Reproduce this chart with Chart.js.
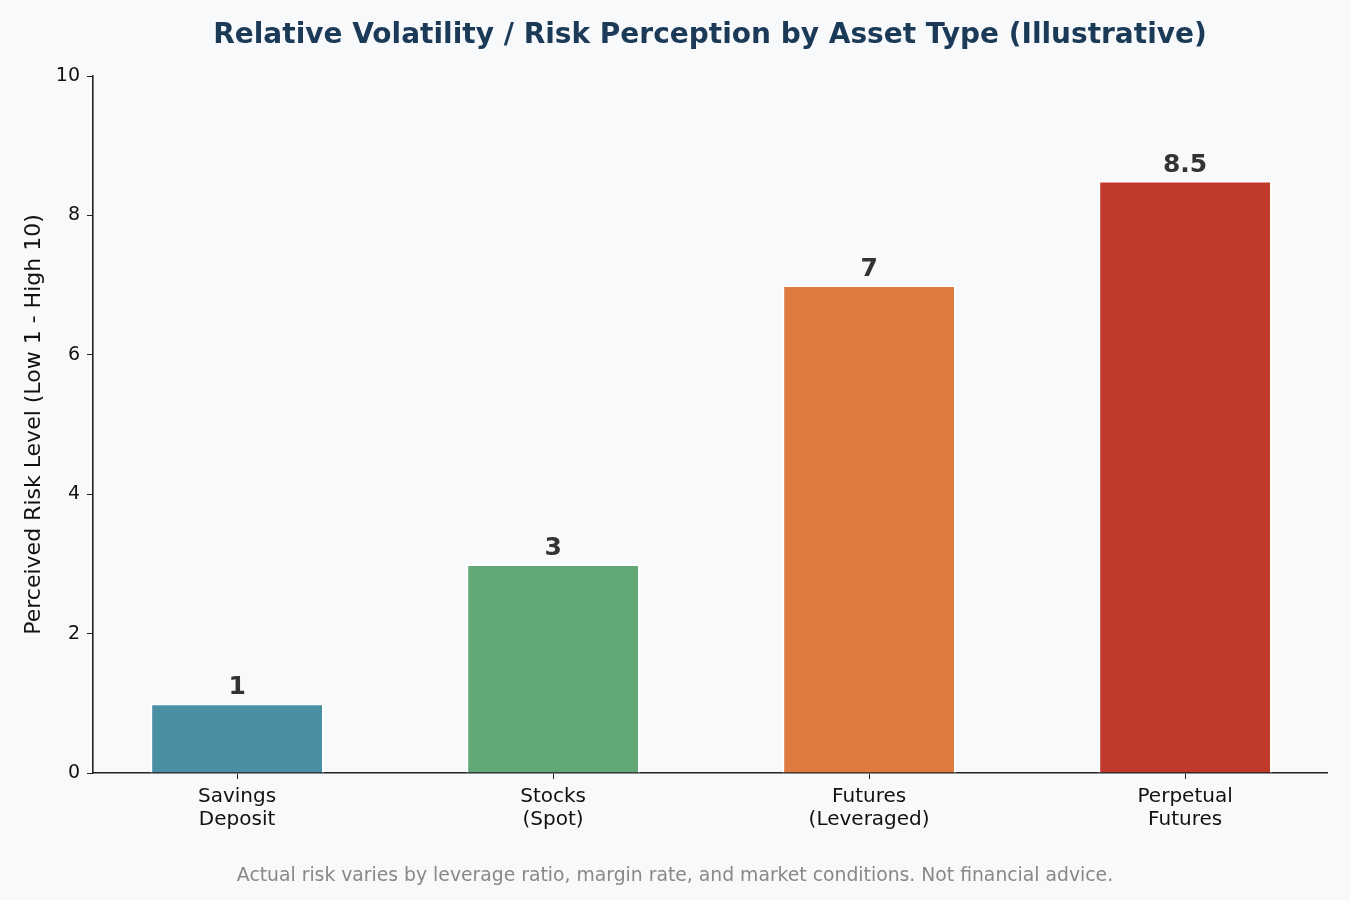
<!DOCTYPE html>
<html>
<head>
<meta charset="utf-8">
<script src="https://cdn.jsdelivr.net/npm/chart.js@4/dist/chart.umd.min.js"></script>
<style>
  html, body { margin: 0; padding: 0; background: #f8f9fb; }
  #wrap { width: 1350px; height: 900px; position: relative; }
</style>
</head>
<body>
<div id="wrap"><canvas id="riskChart"></canvas></div>
<script>
// data
const assetTypes = [['Savings', 'Deposit'], ['Stocks', '(Spot)'], ['Futures', '(Leveraged)'], ['Perpetual', 'Futures']];
const riskLevels = [1, 3, 7, 8.5];
const barColors = ['#4a90a4', '#62a877', '#e07b40', '#c0392b'];
const yTicks = [0, 2, 4, 6, 8, 10];

const titleText = 'Relative Volatility / Risk Perception by Asset Type (Illustrative)';
const noteText = 'Actual risk varies by leverage ratio, margin rate, and market conditions. Not financial advice.';
const FONT = '"DejaVu Sans", sans-serif';

// bars sit at positions 0..n-1 on a linear x axis (matplotlib-like margins)
const barPoints = riskLevels.map((v, i) => ({ x: i, y: v }));

// title, footnote and value labels
const extrasPlugin = {
    id: 'extras',
    afterDraw(chart) {
        const ctx = chart.ctx;
        const area = chart.chartArea;
        ctx.save();

        // title over the plot area
        ctx.fillStyle = '#1b3a57';
        ctx.font = 'bold 28px ' + FONT;
        ctx.textAlign = 'center';
        ctx.textBaseline = 'middle';
        ctx.fillText(titleText, (area.left + area.right) / 2, 36);

        // footnote
        ctx.fillStyle = '#888888';
        ctx.font = '18.8px ' + FONT;
        ctx.fillText(noteText, chart.width / 2, 876);

        // values above bars
        ctx.fillStyle = '#333333';
        ctx.font = 'bold 25px ' + FONT;
        ctx.textBaseline = 'alphabetic';
        const meta = chart.getDatasetMeta(0);
        meta.data.forEach((bar, i) => {
            ctx.fillText(String(riskLevels[i]), bar.x, bar.y - 9);
        });
        ctx.restore();
    }
};

const ctx = document.getElementById('riskChart').getContext('2d');
new Chart(ctx, {
    type: 'bar',
    data: {
        datasets: [{
            data: barPoints,
            backgroundColor: barColors,
            borderColor: '#ffffff',
            borderWidth: 2,
            borderSkipped: 'bottom',
            categoryPercentage: 1.0,
            barPercentage: 0.55
        }]
    },
    options: {
        responsive: true,
        maintainAspectRatio: false,
        animation: false,
        layout: {
            padding: { top: 76, right: 23, left: 0, bottom: 0 }
        },
        plugins: {
            legend: { display: false },
            tooltip: { enabled: false }
        },
        scales: {
            x: {
                type: 'linear',
                min: -0.456,
                max: 3.449,
                offset: false,
                afterBuildTicks(scale) {
                    scale.ticks = assetTypes.map((_, i) => ({ value: i }));
                },
                grid: {
                    offset: false,
                    drawOnChartArea: false,
                    drawTicks: true,
                    tickLength: 6,
                    color: '#222222'
                },
                border: { display: true, color: '#222222', width: 1.6 },
                ticks: {
                    color: '#111111',
                    font: { family: FONT, size: 20, lineHeight: 1.15 },
                    padding: 6,
                    maxRotation: 0,
                    autoSkip: false,
                    callback: (value) => assetTypes[value]
                },
                afterFit(scale) { scale.height = 127; }
            },
            y: {
                min: 0,
                max: 10,
                afterBuildTicks(scale) {
                    scale.ticks = yTicks.map(v => ({ value: v }));
                },
                grid: {
                    drawOnChartArea: false,
                    drawTicks: true,
                    tickLength: 6,
                    color: '#222222'
                },
                border: { display: true, color: '#222222', width: 1.6 },
                ticks: {
                    color: '#111111',
                    font: { family: FONT, size: 19 },
                    padding: 7
                },
                title: {
                    display: true,
                    text: 'Perceived Risk Level (Low 1 - High 10)',
                    color: '#111111',
                    font: { family: FONT, size: 22 },
                    padding: { top: 21, bottom: 0 }
                },
                afterFit(scale) { scale.width = 93; }
            }
        }
    },
    plugins: [extrasPlugin]
});
</script>
</body>
</html>
